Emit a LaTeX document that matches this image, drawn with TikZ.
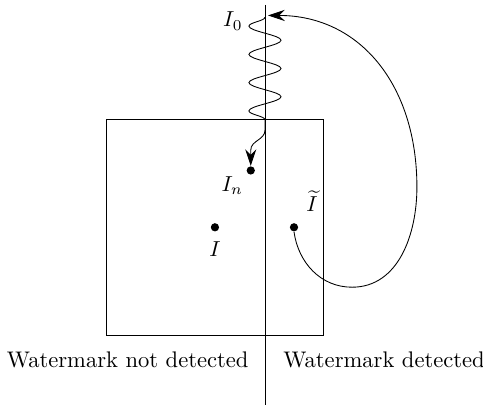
\documentclass[tikz,border=0pt]{standalone}
\usetikzlibrary{arrows.meta,decorations.pathmorphing}
\tikzset{
  >={Stealth[length=2.7mm,width=1.8mm,inset=0.9mm]},
  dot/.style={circle,fill,inner sep=0pt,minimum size=3.8pt},
  lbl/.style={inner sep=1pt},
  side/.style={inner sep=0pt},
  wiggle/.style={decoration={snake,amplitude=0.26cm,segment length=0.4575cm,mirror}},
}
\begin{document}
\begin{tikzpicture}[font=\fontsize{10.4}{12.5}\selectfont]
  \useasboundingbox (-1.73,-1.15) rectangle (6.09,5.43);
  % region and border
  \draw (0,0) rectangle (3.5,3.5);
  \coordinate (top) at (2.56,5.35);
  \coordinate (bot) at (2.56,-1.13);
  \draw (top) -- (bot);
  % points
  \node[dot] (In) at (2.33,2.67) {};
  \node[dot] (I) at (1.75,1.75) {};
  \node[dot] (It) at (3.03,1.75) {};
  \node[lbl] (InL) at (2.03,2.43) {$I_n$};
  \node[lbl] (IL) at (1.75,1.39) {$I$};
  \node[lbl] (ItL) at (3.32,2.17) {$\widetilde{I}$};
  \node[lbl] (I0L) at (2.04,5.09) {$I_0$};
  % attack path
  \coordinate (s0) at (2.56,5.15);
  \coordinate (s1) at (2.56,3.32);
  \coordinate (s2) at (2.61,5.18);
  \draw[->] (s0) decorate[wiggle]{-- (s1)} to[out=-90,in=90] (2.33,3.0) -- (In.north);
  % back to the start
  \coordinate (b1) at (3.97,0.78);
  \coordinate (b2) at (5.02,2.40);
  \draw[->] (It.south) to[out=-82,in=180] (b1) to[out=0,in=-90] (b2)
    .. controls (5.02,4.05) and (4.1,5.18) .. (s2);
  % sides
  \node[side,anchor=east] (nd) at (2.30,-0.40) {Watermark not detected};
  \node[side,anchor=west] (dt) at (2.85,-0.40) {Watermark detected};
\end{tikzpicture}
\end{document}
